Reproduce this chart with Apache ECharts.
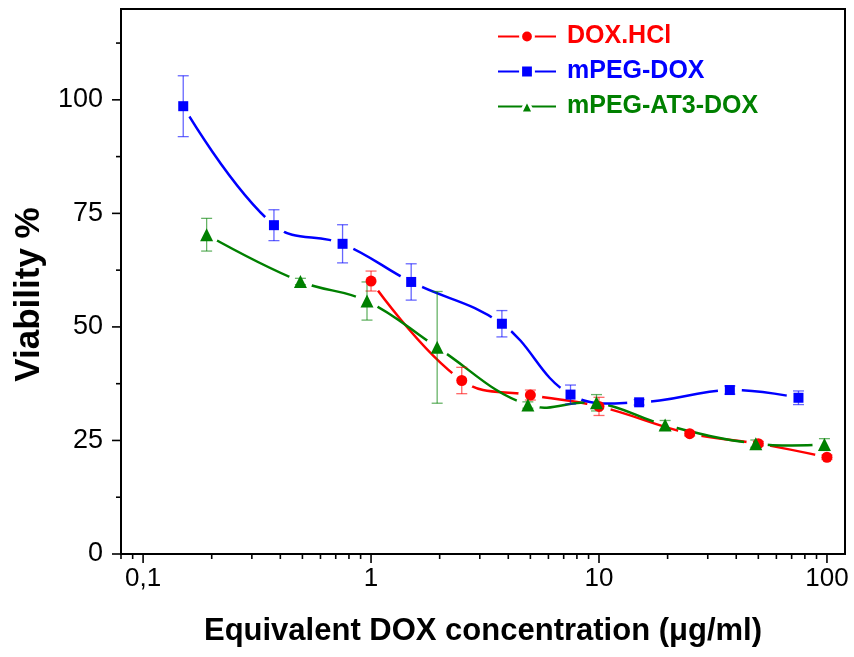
<!DOCTYPE html>
<html>
<head>
<meta charset="utf-8">
<script src="https://cdn.jsdelivr.net/npm/echarts@6/dist/echarts.min.js"></script>
<style>
  html, body { margin: 0; padding: 0; background: #ffffff; }
  #chart { width: 854px; height: 657px; }
</style>
</head>
<body>
<div id="chart"></div>
<script>
// Viability (%) vs equivalent DOX concentration (µg/ml), mean ± error
const doxHclX   = [1, 2.5, 5, 10, 25, 50, 100];
const doxHclY   = [60.1, 38.2, 35.0, 32.5, 26.5, 24.3, 21.3];
const doxHclErr = [2.2, 2.9, 1.1, 2.0, 0.5, 0.5, 0.5];

const mpegDoxX   = [0.15, 0.375, 0.75, 1.5, 3.75, 7.5, 15, 37.5, 75];
const mpegDoxY   = [98.6, 72.4, 68.3, 59.9, 50.7, 35.1, 33.4, 36.1, 34.4];
const mpegDoxErr = [6.7, 3.4, 4.2, 4.0, 2.9, 2.1, 0.6, 0.9, 1.5];

const mpegAt3DoxX   = [0.19, 0.49, 0.96, 1.95, 4.875, 9.75, 19.5, 48.75, 97.5];
const mpegAt3DoxY   = [70.3, 60.0, 55.7, 45.5, 32.8, 33.3, 28.4, 24.3, 24.1];
const mpegAt3DoxErr = [3.6, 0.7, 4.2, 12.3, 0.7, 1.8, 1.0, 0.8, 1.3];

// Axis tick positions
const xMajorTicks = [0.1, 1, 10, 100];
const xMinorTicks = [0.08, 0.09, 0.2, 0.3, 0.4, 0.5, 0.6, 0.7, 0.8, 0.9,
                     2, 3, 4, 5, 6, 7, 8, 9, 20, 30, 40, 50, 60, 70, 80, 90];
const yMajorTicks = [0, 25, 50, 75, 100];
const yMinorTicks = [12.5, 37.5, 62.5, 87.5, 112.5];

const X_MIN = 0.08, X_MAX = 120, Y_MIN = 0, Y_MAX = 120;
const FONT = 'Liberation Sans, Arial, sans-serif';
const GAP_R = 12;   // radius of the break in each curve around its own points

const seriesDefs = [
  { name: 'DOX.HCl',      color: '#ff0000', symbol: 'circle',   size: 11, x: doxHclX,     y: doxHclY,     err: doxHclErr },
  { name: 'mPEG-AT3-DOX', color: '#008000', symbol: 'triangle', size: 13, x: mpegAt3DoxX, y: mpegAt3DoxY, err: mpegAt3DoxErr },
  { name: 'mPEG-DOX',     color: '#0000ff', symbol: 'rect',     size: 10, x: mpegDoxX,    y: mpegDoxY,    err: mpegDoxErr }
];

function pairs(d) { return d.x.map((v, i) => [v, d.y[i]]); }

// clip region: whole canvas with circular holes (opposite winding) at the given points
function holedClip(pts, r) {
  let s = 'M0,0 L854,0 L854,657 L0,657 Z';
  pts.forEach(p => {
    const cx = p[0], cy = p[1];
    s += ' M' + (cx + r) + ',' + cy +
         ' A' + r + ',' + r + ' 0 1,0 ' + (cx - r) + ',' + cy +
         ' A' + r + ',' + r + ' 0 1,0 ' + (cx + r) + ',' + cy + ' Z';
  });
  return s;
}

const series = [];

// legend entries (line + symbol icon)
seriesDefs.forEach((d) => {
  series.push({
    name: d.name, type: 'line', data: [],
    symbol: d.symbol, symbolSize: d.size,
    itemStyle: { color: d.color }, lineStyle: { color: d.color, width: 2.5 },
    silent: true, animation: false
  });
});

// smoothed curves, broken around their own points
seriesDefs.forEach((d, k) => {
  series.push({
    name: d.name + ' curve', type: 'custom', data: pairs(d),
    z: 3 + k, silent: true, animation: false, clip: false,
    renderItem: function (params, api) {
      if (params.dataIndex !== 0) return null;
      const pts = d.x.map((v, i) => api.coord([v, d.y[i]]));
      return {
        type: 'polyline',
        shape: { points: pts, smooth: 0.4 },
        style: { stroke: d.color, lineWidth: 2.5, fill: null },
        clipPath: { type: 'path', shape: { pathData: holedClip(pts, GAP_R) } }
      };
    }
  });
});

// error bars
seriesDefs.forEach((d) => {
  series.push({
    name: d.name + ' err', type: 'custom', z: 20, silent: true, animation: false, clip: false,
    data: d.x.map((v, i) => [v, d.y[i], d.err[i]]),
    renderItem: function (params, api) {
      const x = api.value(0), y = api.value(1), e = api.value(2);
      const top = api.coord([x, y + e]);
      const bot = api.coord([x, y - e]);
      const half = 5.5;
      const style = { stroke: d.color, lineWidth: 1.3, opacity: 0.6 };
      return {
        type: 'group',
        children: [
          { type: 'line', shape: { x1: top[0], y1: top[1], x2: bot[0], y2: bot[1] }, style: style },
          { type: 'line', shape: { x1: top[0] - half, y1: top[1], x2: top[0] + half, y2: top[1] }, style: style },
          { type: 'line', shape: { x1: bot[0] - half, y1: bot[1], x2: bot[0] + half, y2: bot[1] }, style: style }
        ]
      };
    }
  });
});

// markers on top
seriesDefs.forEach((d) => {
  series.push({
    name: d.name + ' marks', type: 'scatter', data: pairs(d),
    symbol: d.symbol, symbolSize: d.size,
    itemStyle: { color: d.color, opacity: 1 }, z: 21, silent: true, animation: false
  });
});

// axis ticks (outward, major and minor)
const tickData = []
  .concat(xMajorTicks.map(v => [v, Y_MIN, 1, 0]))
  .concat(xMinorTicks.map(v => [v, Y_MIN, 0, 0]))
  .concat(yMajorTicks.map(v => [X_MIN, v, 1, 1]))
  .concat(yMinorTicks.map(v => [X_MIN, v, 0, 1]));
series.push({
  name: 'ticks', type: 'custom', z: 22, silent: true, animation: false, clip: false,
  data: tickData,
  renderItem: function (params, api) {
    const p = api.coord([api.value(0), api.value(1)]);
    const len = api.value(2) ? 9 : 5;
    const style = { stroke: '#000000', lineWidth: 1.6 };
    if (api.value(3) === 0) {
      return { type: 'line', shape: { x1: p[0], y1: p[1], x2: p[0], y2: p[1] + len }, style: style };
    }
    return { type: 'line', shape: { x1: p[0], y1: p[1], x2: p[0] - len, y2: p[1] }, style: style };
  }
});

const chart = echarts.init(document.getElementById('chart'), null, { renderer: 'canvas' });
chart.setOption({
  animation: false,
  backgroundColor: '#ffffff',
  grid: {
    left: 121, top: 9, width: 724, height: 545,
    show: true, borderColor: '#000000', borderWidth: 2,
    containLabel: false, outerBoundsMode: 'none'
  },
  legend: {
    orient: 'vertical', left: 497, top: 24, padding: 0,
    itemWidth: 58, itemHeight: 16, itemGap: 10,
    itemStyle: { borderColor: '#ffffff', borderWidth: 3 },
    textStyle: { fontFamily: FONT, fontSize: 25, fontWeight: 'bold', padding: [0, 0, 0, 6] },
    data: [
      { name: 'DOX.HCl',      textStyle: { color: '#ff0000' } },
      { name: 'mPEG-DOX',     textStyle: { color: '#0000ff' } },
      { name: 'mPEG-AT3-DOX', textStyle: { color: '#008000' } }
    ],
    selectedMode: false
  },
  xAxis: {
    type: 'log', logBase: 10, min: X_MIN, max: X_MAX,
    name: 'Equivalent DOX concentration (μg/ml)',
    nameLocation: 'middle', nameGap: 62,
    nameTextStyle: { fontFamily: FONT, fontSize: 31, fontWeight: 'bold', color: '#000000' },
    axisLine: { onZero: false, lineStyle: { color: '#000000', width: 2 } },
    axisTick: { show: false },
    splitLine: { show: false },
    axisLabel: {
      showMinLabel: false, showMaxLabel: false, margin: 12,
      fontFamily: FONT, fontSize: 26, color: '#000000',
      formatter: v => String(+v.toPrecision(6)).replace('.', ',')
    }
  },
  yAxis: {
    type: 'value', min: Y_MIN, max: Y_MAX, interval: 25,
    name: 'Viability %', nameLocation: 'middle', nameGap: 65,
    nameTextStyle: { fontFamily: FONT, fontSize: 35, fontWeight: 'bold', color: '#000000', padding: [0, 26, 0, 0] },
    axisLine: { lineStyle: { color: '#000000', width: 2 } },
    axisTick: { show: false },
    splitLine: { show: false },
    axisLabel: {
      showMaxLabel: false, margin: 18,
      fontFamily: FONT, fontSize: 27, color: '#000000'
    }
  },
  series: series
});
</script>
</body>
</html>
